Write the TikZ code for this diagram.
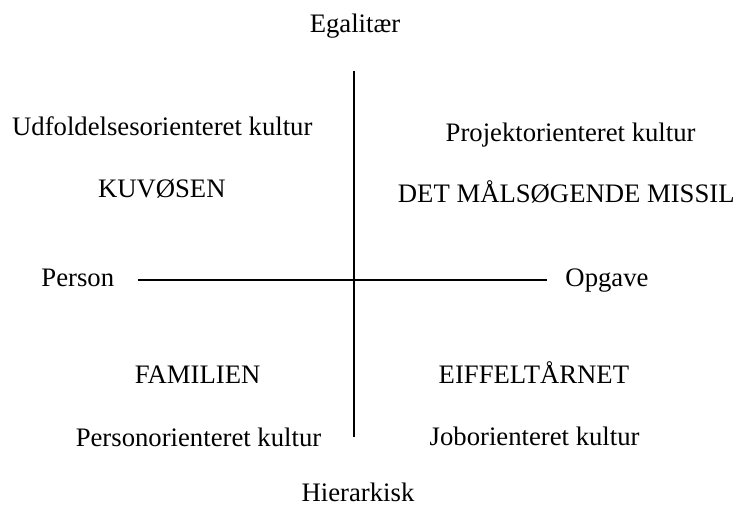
\documentclass[tikz,border=0pt]{standalone}
\usepackage{fontspec}
\setmainfont{Liberation Serif}
\usetikzlibrary{calc}

\tikzset{
  lbl/.style={anchor=base, inner sep=0pt, font=\fontsize{26.7}{32}\selectfont},
  axis/.style={line width=1.8pt}
}

\begin{document}
\begin{tikzpicture}[x=1pt, y=-1pt]
    \useasboundingbox (0,0) rectangle (736,510);

    % poles
    \node[lbl] (egal) at (355,32.3) {Egalitær};
    \node[lbl] (hier) at (358,501) {Hierarkisk};
    \node[lbl] (person) at (77.8,286.7) {Person};
    \node[lbl] (opgave) at (607,286.7) {Opgave};

    % quadrants
    \node[lbl] (udf) at (162.3,136) {Udfoldelsesorienteret kultur};
    \node[lbl] (kuv) at (161.8,197.3) {KUVØSEN};
    \node[lbl] (proj) at (570.6,141.7) {Projektorienteret kultur};
    \node[lbl] (missil) at (566.3,203) {DET MÅLSØGENDE MISSIL};
    \node[lbl] (fam) at (197.6,384) {FAMILIEN};
    \node[lbl] (eif) at (533.9,384) {EIFFELTÅRNET};
    \node[lbl] (perskult) at (198.5,446) {Personorienteret kultur};
    \node[lbl] (jobkult) at (534.6,445.5) {Joborienteret kultur};

    % axes
    \coordinate (top) at (353.7,71);
    \coordinate (bot) at (353.7,437);
    \coordinate (left) at (137.8,280);
    \coordinate (right) at (547,280);

    \draw[axis] (top) -- (bot);
    \draw[axis] (left) -- (right);

\end{tikzpicture}
\end{document}
